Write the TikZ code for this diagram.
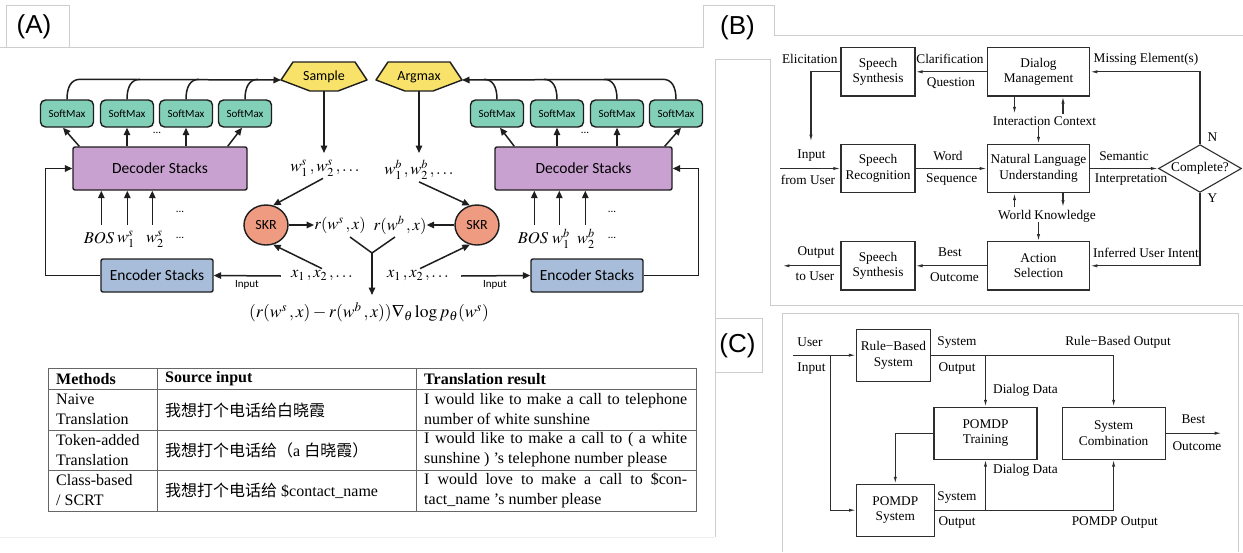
\documentclass[tikz,border=0pt]{standalone}
\usepackage{mathptmx}
\usepackage{fontspec}
\setmainfont{Liberation Serif}
\newfontfamily\cjk{Noto Sans CJK SC}
\newfontfamily\calib{Carlito}
\newfontfamily\arialf{Liberation Sans}
\usetikzlibrary{arrows.meta,shapes.geometric,calc}
\definecolor{frameg}{HTML}{CDCDCD}
\definecolor{faintg}{HTML}{EDEDED}
\definecolor{mint}{HTML}{82D0B7}
\definecolor{orchid}{HTML}{C9A1D1}
\definecolor{steel}{HTML}{A8BDD9}
\definecolor{gold}{HTML}{F8E26A}
\definecolor{salmon}{HTML}{EE9B82}
\definecolor{inkc}{HTML}{1E1E1E}
\definecolor{binkc}{HTML}{2E2E2E}
\definecolor{tblc}{HTML}{666666}
\tikzset{
  frm/.style={draw=frameg, line width=0.9pt},
  aline/.style={draw=inkc, line width=1.5pt},
  aarr/.style={aline, -{Triangle[length=7.5pt,width=6.5pt]}},
  softbox/.style={draw=inkc, line width=1.4pt, fill=mint, rounded corners=5pt, minimum width=53pt, minimum height=27pt, inner sep=0pt, font=\calib\fontsize{11}{12}\selectfont},
  decbox/.style={draw=inkc, line width=1.4pt, fill=orchid, rounded corners=2pt, minimum height=43pt, inner sep=0pt, font=\calib\fontsize{15.5}{17}\selectfont},
  encbox/.style={draw=inkc, line width=1.4pt, fill=steel, rounded corners=2pt, minimum width=112pt, minimum height=33pt, inner sep=0pt, font=\calib\fontsize{15.5}{17}\selectfont},
  skrnode/.style={ellipse, draw=inkc, line width=1.4pt, fill=salmon, minimum width=44pt, minimum height=40pt, inner sep=0pt, font=\calib\fontsize{14}{16}\selectfont},
  hexfill/.style={draw=inkc, line width=1.4pt, fill=gold, line join=round},
  hexlbl/.style={inner sep=0pt, font=\calib\fontsize{14}{16}\selectfont},
  mlbl/.style={inner sep=0pt, font=\fontsize{16.5}{19}\selectfont},
  dotlbl/.style={inner sep=0pt, font=\calib\fontsize{11}{12}\selectfont},
  inlbl/.style={inner sep=0pt, font=\calib\fontsize{11}{12}\selectfont},
  tbt/.style={inner sep=0pt, anchor=west, align=left, font=\fontsize{16}{20}\selectfont},
  tbh/.style={inner sep=0pt, anchor=west, align=left, font=\fontsize{16}{20}\selectfont\bfseries},
  tline/.style={draw=tblc, line width=1pt},
  bbox/.style={draw=binkc, line width=1.1pt, align=center, inner sep=0pt, font=\fontsize{13.3}{15.5}\selectfont},
  blbl/.style={inner sep=0pt, font=\fontsize{13.3}{15.5}\selectfont},
  bline/.style={draw=binkc, line width=1.1pt},
  barr/.style={bline, -{Latex[length=7pt,width=3.2pt]}},
  tablbl/.style={inner sep=0pt, font=\arialf\fontsize{26}{28}\selectfont},
}
\begin{document}
\begin{tikzpicture}[x=1pt,y=-1pt]
\useasboundingbox (0,0) rectangle (1243,552);
\fill[white] (0,0) rectangle (1243,552);
% ---------- frames ----------
\draw[frm] (0,47.6) -- (703,47.6);
\draw[frm] (6,47.6) -- (6,5) -- (69,5) -- (69,47.6);
\draw[frm] (703,47.6) -- (703,5) -- (774,5) -- (774,35.5) -- (1243,35.5);
\draw[frm] (770,59) -- (770,305) -- (1243,305);
\draw[frm] (715,537) -- (715,59) -- (770,59);
\draw[frm] (715,318) -- (762,318) -- (762,372) -- (715,372);
\draw[frm] (782,552) -- (782,313) -- (1238,313) -- (1238,552);
\draw[draw=faintg, line width=0.8pt] (0,537) -- (715,537);
\node[tablbl] (tA) at (34,27) {(A)};
\node[tablbl] (tB) at (737.5,27.5) {(B)};
\node[tablbl] (tC) at (737.5,345.5) {(C)};

% ---------- panel A ----------
\node[softbox] (sm1) at (67,113.5) {SoftMax};
\node[softbox] (sm2) at (127,113.5) {SoftMax};
\node[softbox] (sm3) at (186,113.5) {SoftMax};
\node[softbox] (sm4) at (245,113.5) {SoftMax};
\node[softbox] (sm5) at (497,113.5) {SoftMax};
\node[softbox] (sm6) at (557,113.5) {SoftMax};
\node[softbox] (sm7) at (617,113.5) {SoftMax};
\node[softbox] (sm8) at (676,113.5) {SoftMax};
\node[decbox, minimum width=174pt] (decL) at (160,168.5) {Decoder Stacks};
\node[decbox, minimum width=177pt] (decR) at (583.5,168.5) {Decoder Stacks};
\node[encbox] (encL) at (157,275.5) {Encoder Stacks};
\node[encbox] (encR) at (587,275.5) {Encoder Stacks};

\coordinate (sc) at (324,77);
\coordinate (ac) at (419,77);
\draw[hexfill] ($(sc)+(-31,-15)$) -- ($(sc)+(31,-15)$) -- ($(sc)+(43,3)$) -- ($(sc)+(14,14)$) -- ($(sc)+(-14,14)$) -- ($(sc)+(-43,3)$) -- cycle;
\draw[hexfill] ($(ac)+(-31,-15)$) -- ($(ac)+(31,-15)$) -- ($(ac)+(43,3)$) -- ($(ac)+(14,14)$) -- ($(ac)+(-14,14)$) -- ($(ac)+(-43,3)$) -- cycle;
\node[hexlbl] (samp) at (sc) {Sample};
\node[hexlbl] (argm) at (ac) {Argmax};

% curves into Sample / Argmax
\draw[aarr] (sm1.north) .. controls ($(sm1.north)+(0,-12)$) and ($(sm1.north)+(4,-20)$) .. ($(sm1.north)+(13,-20)$) -- ($(sc)+(-43,3)$);
\foreach \n in {sm2,sm3,sm4}
  \draw[aline] (\n.north) .. controls ($(\n.north)+(0,-12)$) and ($(\n.north)+(4,-20)$) .. ($(\n.north)+(13,-20)$);
\draw[aarr] (sm8.north) .. controls ($(sm8.north)+(0,-12)$) and ($(sm8.north)+(-4,-20)$) .. ($(sm8.north)+(-13,-20)$) -- ($(ac)+(43,3)$);
\foreach \n in {sm5,sm6,sm7}
  \draw[aline] (\n.north) .. controls ($(\n.north)+(0,-12)$) and ($(\n.north)+(-4,-20)$) .. ($(\n.north)+(-13,-20)$);

% decoder -> softmax
\draw[aarr] ($(decL.north west)+(7,0)$) -- ($(sm1.south)+(-4,0)$);
\draw[aarr] (sm2.south |- decL.north) -- (sm2.south);
\draw[aarr] (sm3.south |- decL.north) -- (sm3.south);
\draw[aarr] ($(decL.north east)+(-20,0)$) -- ($(sm4.south)+(-3,0)$);
\draw[aarr] ($(decR.north west)+(20,0)$) -- ($(sm5.south)+(3,0)$);
\draw[aarr] (sm6.south |- decR.north) -- (sm6.south);
\draw[aarr] (sm7.south |- decR.north) -- (sm7.south);
\draw[aarr] ($(decR.north east)+(-8,0)$) -- ($(sm8.south)+(5,0)$);
\node[dotlbl] (dotA1) at (157,133) {...};
\node[dotlbl] (dotA2) at (585,133) {...};

% inputs into decoders
\foreach \dx in {29,55,80}
  \draw[aarr] ($(decL.south west)+(\dx,34)$) -- ($(decL.south west)+(\dx,0)$);
\foreach \dx in {40,65,91}
  \draw[aarr] ($(decR.south west)+(\dx,34)$) -- ($(decR.south west)+(\dx,0)$);
\node[mlbl] (bosL) at (99,238) {$BOS$};
\node[mlbl] (w1L) at (126,239) {$w_1^s$};
\node[mlbl] (w2L) at (155,239) {$w_2^s$};
\node[dotlbl] (dL1) at (180,238) {...};
\node[dotlbl] (dL2) at (180,212) {...};
\node[mlbl] (bosR) at (533,238) {$BOS$};
\node[mlbl] (w1R) at (561,239) {$w_1^b$};
\node[mlbl] (w2R) at (586,239) {$w_2^b$};
\node[dotlbl] (dR1) at (612,238) {...};
\node[dotlbl] (dR2) at (612,212) {...};

% middle
\node[mlbl] (wsL) at (325,168) {$w_1^s\,, w_2^s\,,\ldots$};
\node[mlbl] (wbR) at (419,170) {$w_1^b\,, w_2^b\,,\ldots$};
\draw[aarr] ($(sc)+(0,14)$) -- ($(sc)+(0,76)$);
\draw[aarr] ($(ac)+(0,14)$) -- ($(ac)+(0,76)$);
\node[skrnode] (skrL) at (266,225) {SKR};
\node[skrnode] (skrR) at (477,225) {SKR};
\node[mlbl] (rws) at (340,225) {$r(w^s\,,x)$};
\node[mlbl] (rwb) at (400,225) {$r(w^b\,,x)$};
\draw[aarr] (skrL.east) -- (rws.west);
\draw[aarr] (skrR.west) -- (rwb.east);
\node[mlbl] (xL) at (322,276) {$x_1\,, x_2\,,\ldots$};
\node[mlbl] (xR) at (418,276) {$x_1\,, x_2\,,\ldots$};
\draw[aarr] ($(wsL.south)+(-2,2)$) -- (skrL.70);
\draw[aarr] ($(xL.north)+(0,-2)$) -- (skrL.-70);
\draw[aarr] ($(wbR.south)+(0,2)$) -- (skrR.110);
\draw[aarr] ($(xR.north)+(2,-2)$) -- (skrR.-110);
\draw[aarr] ($(xL.west)+(-10,0)$) -- (encL.east);
\draw[aarr] ($(xR.east)+(12,0)$) -- (encR.west);
\node[inlbl] (inL) at (247,285) {Input};
\node[inlbl] (inR) at (495,285) {Input};
\draw[aarr] (encL.west) -- ++(-55,0) |- (decL.west);
\draw[aarr] (encR.east) -- ++(55,0) |- (decR.east);
\coordinate (ym) at (372,253);
\coordinate (ya) at (350,237);
\coordinate (yb) at (395,237);
\draw[aline] (ya) -- (ym) -- (yb);
\draw[aarr] (ym) -- ($(ym)+(0,42)$);
\node[inner sep=0pt, font=\fontsize{17.5}{20}\selectfont] (form) at (369,312) {$(r(w^s\,,x)-r(w^b\,,x))\nabla_\theta \log p_\theta(w^s)$};

% table
\draw[tline] (48,368) rectangle (696,511);
\draw[tline] (48,389) -- (696,389);
\draw[tline] (48,430) -- (696,430);
\draw[tline] (48,470) -- (696,470);
\draw[tline] (157,368) -- (157,511);
\draw[tline] (416,368) -- (416,511);
\node[tbh] (h1) at (56,379) {Methods};
\node[tbh] (h2) at (165,379) {Source input};
\node[tbh] (h3) at (424,379) {Translation result};
\node[tbt] (m1) at (56,409.5) {Naive\\Translation};
\node[tbt] (m2) at (56,450) {Token-added\\Translation};
\node[tbt] (m3) at (56,490.5) {Class-based\\/ SCRT};
\node[tbt] (s1) at (165,410) {{\cjk 我想打个电话给白晓霞}};
\node[tbt] (s2) at (165,450.5) {{\cjk 我想打个电话给（}a {\cjk 白晓霞）}};
\node[tbt] (s3) at (165,491) {{\cjk 我想打个电话给} \$contact\_name};
\node[tbt] (r1) at (424,409.5) {\makebox[263pt][s]{I would like to make a call to telephone}\\number of white sunshine};
\node[tbt] (r2) at (424,450) {\makebox[263pt][s]{I would like to make a call to ( a white}\\sunshine ) ’s telephone number please};
\node[tbt] (r3) at (424,490.5) {\makebox[263pt][s]{I would love to make a call to \$con-}\\tact\_name ’s number please};

% ---------- panel B ----------
\node[bbox, minimum width=74pt, minimum height=48.3pt] (ss1) at (878,71.8) {Speech\\Synthesis};
\node[bbox, minimum width=102.5pt, minimum height=48.3pt] (dm) at (1038.5,71.8) {Dialog\\Management};
\node[bbox, minimum width=74pt, minimum height=48.3pt] (sr) at (878,168.5) {Speech\\Recognition};
\node[bbox, minimum width=102.5pt, minimum height=48.3pt] (nlu) at (1038.5,168.5) {Natural Language\\Understanding};
\node[bbox, minimum width=102.5pt, minimum height=48.3pt] (as) at (1038.5,265.8) {Action\\Selection};
\node[bbox, minimum width=74pt, minimum height=48.3pt] (ss2) at (878,265.8) {Speech\\Synthesis};
\node[diamond, draw=binkc, line width=1.1pt, minimum width=83pt, minimum height=47.7pt, aspect=1.74, inner sep=0pt, font=\fontsize{13.3}{15.5}\selectfont] (cmp) at (1200,168.5) {Complete?};

\draw[barr] (dm.west) -- (ss1.east);
\draw[barr] (ss1.west) -| ($(sr.west)+(-29.5,-26.8)$);
\draw[barr] ($(sr.west)+(-60,0)$) -- (sr.west);
\draw[barr] (sr.east) -- (nlu.west);
\draw[barr] ($(dm.south)+(-24,0)$) -- ++(0,17.3);
\draw[barr] ($(dm.south)+(24.5,17.3)$) -- ++(0,-17.3);
\draw[barr] ($(nlu.north)+(0,-17.6)$) -- (nlu.north);
\draw[barr] ($(nlu.south)+(-24,14)$) -- ++(0,-14);
\draw[barr] ($(nlu.south)+(24.5,0)$) -- ++(0,14);
\draw[barr] ($(as.north)+(0,-19)$) -- (as.north);
\draw[barr] (nlu.east) -- (cmp.west);
\draw[barr] (cmp.north) |- (dm.east);
\draw[barr] (cmp.south) |- (as.east);
\draw[barr] (as.west) -- (ss2.east);
\draw[barr] (ss2.west) -- ++(-58,0);

\node[blbl] (lElic) at (809.8,59.3) {Elicitation};
\node[blbl] (lClar) at (950,59.3) {Clarification};
\node[blbl] (lQues) at (951,83.3) {Question};
\node[blbl] (lMiss) at (1146,59.3) {Missing Element(s)};
\node[blbl] (lInp) at (811.5,155.7) {Input};
\node[blbl] (lFrom) at (808,180) {from User};
\node[blbl] (lWord) at (948,155.7) {Word};
\node[blbl] (lSeq) at (951.7,180) {Sequence};
\node[blbl] (lSem) at (1124,155.7) {Semantic};
\node[blbl] (lInt) at (1131,180) {Interpretation};
\node[blbl] (lN) at (1212.5,136.7) {N};
\node[blbl] (lY) at (1212.5,198.3) {Y};
\node[blbl] (lIC) at (1044.5,120.7) {Interaction Context};
\node[blbl] (lWK) at (1047,216) {World Knowledge};
\node[blbl] (lOut) at (816,252.7) {Output};
\node[blbl] (lTo) at (815,276.7) {to User};
\node[blbl] (lBest) at (950,252.7) {Best};
\node[blbl] (lOutc) at (954.5,276.7) {Outcome};
\node[blbl] (lInf) at (1146,252.7) {Inferred User Intent};

% ---------- panel C ----------
\node[bbox, minimum width=74pt, minimum height=51.7pt] (rb) at (893.4,355.2) {Rule−Based\\System};
\node[bbox, minimum width=103pt, minimum height=51.7pt] (pt) at (985.5,433.2) {POMDP\\Training};
\node[bbox, minimum width=103pt, minimum height=51.7pt] (scb) at (1113.6,433.2) {System\\Combination};
\node[bbox, minimum width=77.5pt, minimum height=51.7pt] (ps) at (895.3,510.2) {POMDP\\System};
\coordinate (uin) at (792.8,355.2);
\coordinate (ubr) at (830.9,355.2);
\draw[barr] (uin) -- (rb.west);
\draw[barr] (ubr) |- (ps.west);
\draw[barr] (rb.east) -| (scb.north);
\draw[barr] (pt.north |- rb.east) -- (pt.north);
\draw[barr] (pt.west) -| (ps.north);
\draw[barr] (ps.east) -| (scb.south);
\draw[barr] (pt.south |- ps.east) -- (pt.south);
\draw[barr] (scb.east) -- ++(56,0);

\node[blbl] (cUser) at (810,342.7) {User};
\node[blbl] (cInp) at (811.5,368.7) {Input};
\node[blbl] (cSys1) at (957,342.7) {System};
\node[blbl] (cOut1) at (957,368.7) {Output};
\node[blbl] (cRBO) at (1118,342.7) {Rule−Based Output};
\node[blbl] (cDD1) at (1025.5,390.7) {Dialog Data};
\node[blbl] (cDD2) at (1025.5,470.7) {Dialog Data};
\node[blbl] (cSys2) at (957,497.3) {System};
\node[blbl] (cOut2) at (957,522.7) {Output};
\node[blbl] (cPO) at (1114.8,522.7) {POMDP Output};
\node[blbl] (cBest) at (1193.4,419.3) {Best};
\node[blbl] (cOutc) at (1197,446) {Outcome};
\end{tikzpicture}
\end{document}
